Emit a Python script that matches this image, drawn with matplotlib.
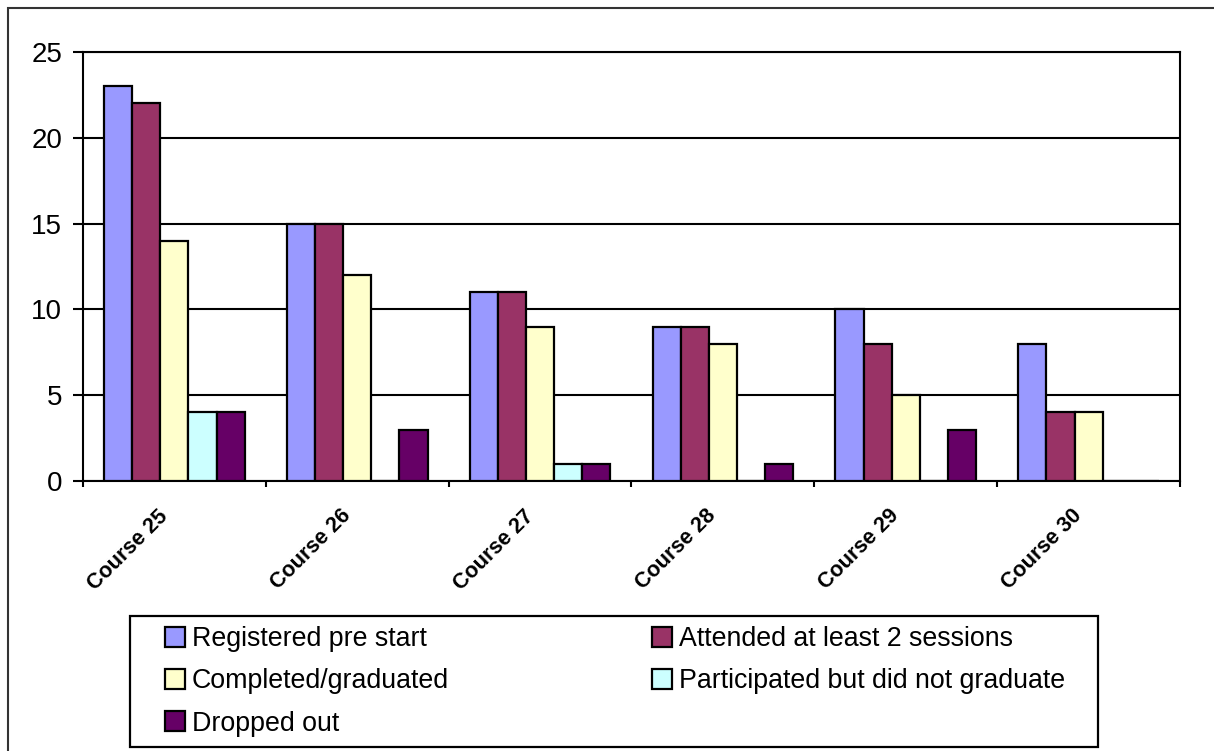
import matplotlib
matplotlib.use("Agg")
import matplotlib.pyplot as plt
from matplotlib.patches import Rectangle
import numpy as np

plt.rcParams["font.family"] = ["Liberation Sans", "DejaVu Sans"]

courses = ["Course 25", "Course 26", "Course 27", "Course 28", "Course 29", "Course 30"]
registered = [23, 15, 11, 9, 10, 8]
attended = [22, 15, 11, 9, 8, 4]
completed = [14, 12, 9, 8, 5, 4]
participated = [4, 0, 1, 0, 0, 0]
dropped = [4, 3, 1, 1, 3, 0]

series = [
    ("Registered pre start", registered, "#9999FF"),
    ("Attended at least 2 sessions", attended, "#993366"),
    ("Completed/graduated", completed, "#FFFFCC"),
    ("Participated but did not graduate", participated, "#CCFFFF"),
    ("Dropped out", dropped, "#660066"),
]

W, H = 1214, 751
fig = plt.figure(figsize=(W / 100, H / 100), dpi=100)
ax = fig.add_axes([83 / W, 1 - 481 / H, (1180 - 83) / W, (481 - 52) / H])

x = np.arange(len(courses))
w = 1 / 6.5
handles = []
for i, (name, vals, col) in enumerate(series):
    b = ax.bar(x + (i - 2) * w, vals, w, color=col, edgecolor="black", linewidth=1.6,
               label=name, zorder=3)
    handles.append(b)

ax.set_xlim(-0.5, len(courses) - 0.5)
ax.set_ylim(0, 25)
ax.set_yticks(range(0, 26, 5))
ax.yaxis.grid(True, color="black", linewidth=1.5, zorder=1)
ax.set_axisbelow(True)
for s in ax.spines.values():
    s.set_color("black")
    s.set_linewidth(1.5)

# labels end a little left of the group centre, as in the original
ax.set_xticks(x - 0.053)
ax.set_xticklabels(courses, rotation=45, ha="right", va="center",
                   rotation_mode="anchor", fontsize=15.5, fontweight="bold")
ax.set_xticks(np.arange(-0.5, len(courses) + 0.5, 1), minor=True)
ax.tick_params(axis="x", which="major", length=0, pad=23)
ax.tick_params(axis="x", which="minor", length=4.5, width=1.5, direction="out")
ax.tick_params(axis="y", length=7, width=1.5, pad=8, labelsize=20)

# chart border and legend frame
fig.patches.append(Rectangle((8 / W, -0.05), 1.2, 1 - 8 / H + 0.05, transform=fig.transFigure,
                             fill=False, edgecolor="#333333", linewidth=1.5))
fig.patches.append(Rectangle((130 / W, 1 - 747 / H), (1098 - 130) / W, (747 - 616) / H,
                             transform=fig.transFigure, fill=False, edgecolor="black", linewidth=1.6))

# row-major order like the original legend
order = [0, 2, 4, 1, 3]
fig.legend(handles=[handles[k] for k in order], ncol=2, mode="expand", loc="center", frameon=False,
           bbox_to_anchor=(165 / W, 1 - 747 / H, (1065 - 165) / W, (747 - 616) / H),
           fontsize=19.3, borderpad=0, borderaxespad=0, handlelength=0.75, handleheight=0.75,
           handletextpad=0.25, labelspacing=0.6)

fig.savefig("out.png", dpi=100)
